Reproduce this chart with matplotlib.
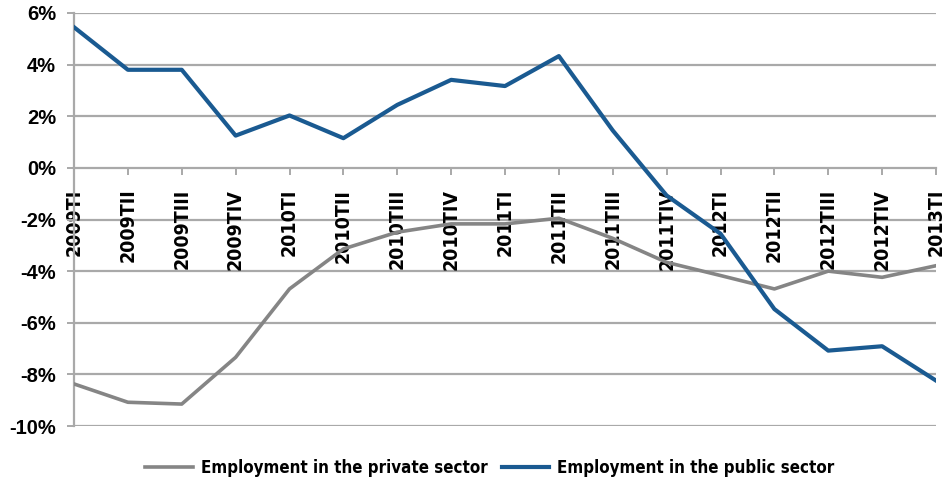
import matplotlib
matplotlib.use("Agg")
import matplotlib.pyplot as plt
from matplotlib.ticker import FuncFormatter

categories = ["2009TI", "2009TII", "2009TIII", "2009TIV",
              "2010TI", "2010TII", "2010TIII", "2010TIV",
              "2011TI", "2011TII", "2011TIII", "2011TIV",
              "2012TI", "2012TII", "2012TIII", "2012TIV",
              "2013TI"]
private_sector = [-8.37, -9.08, -9.15, -7.34, -4.69, -3.14, -2.49, -2.17,
                  -2.17, -1.95, -2.73, -3.66, -4.17, -4.69, -4.0, -4.24, -3.79]
public_sector = [5.45, 3.8, 3.8, 1.25, 2.03, 1.15, 2.44, 3.41,
                 3.17, 4.33, 1.45, -1.07, -2.55, -5.47, -7.08, -6.91, -8.24]
y_ticks = [-10, -8, -6, -4, -2, 0, 2, 4, 6]

FONT = ["DejaVu Sans", "Liberation Sans"]
plt.rcParams["font.family"] = FONT

fig = plt.figure(figsize=(9.49, 4.88), dpi=100)
ax = fig.add_axes([74 / 949, 1 - 426 / 488, (936 - 74) / 949, (426 - 13) / 488])

x = list(range(len(categories)))
grid_c = "#a9a9a9"
for v in y_ticks:
    if v != 0:
        ax.axhline(v, color=grid_c, lw=1.6, zorder=1)

ax.plot(x, private_sector, color="#858585", lw=2.6, zorder=3,
        label="Employment in the private sector", solid_joinstyle="round")
ax.plot(x, public_sector, color="#1a5a91", lw=3.0, zorder=4,
        label="Employment in the public sector", solid_joinstyle="round")

ax.set_xlim(0, len(categories) - 1)
ax.set_ylim(-10, 6)
ax.set_yticks(y_ticks)
ax.yaxis.set_major_formatter(FuncFormatter(lambda v, p: f"{v:.0f}%"))

for s in ["top", "right"]:
    ax.spines[s].set_visible(False)
ax.spines["bottom"].set_position(("data", 0))
ax.spines["bottom"].set_color(grid_c)
ax.spines["bottom"].set_linewidth(1.6)
ax.spines["left"].set_color(grid_c)
ax.spines["left"].set_linewidth(1.6)
ax.spines["bottom"].set_zorder(2)

ax.set_xticks(x)
ax.set_xticklabels(categories, rotation=90, va="top", ha="center",
                   fontsize=14, fontweight="bold", fontstretch="condensed")
ax.tick_params(axis="x", direction="out", length=5, width=1.4, color=grid_c, pad=10)
ax.tick_params(axis="y", direction="out", length=5, width=1.4, color=grid_c,
               labelsize=14.5, pad=8)
for t in ax.get_yticklabels():
    t.set_fontweight("bold")
    t.set_fontfamily(["Liberation Sans", "DejaVu Sans"])

leg = fig.legend(loc="center", bbox_to_anchor=(490 / 949, 1 - 468 / 488), ncol=2,
                 frameon=False,
                 prop={"family": FONT, "weight": "bold", "size": 12.2, "stretch": "condensed"},
                 handlelength=2.8, columnspacing=0.8, handletextpad=0.5)

fig.savefig("out.png", dpi=100, facecolor="white")
